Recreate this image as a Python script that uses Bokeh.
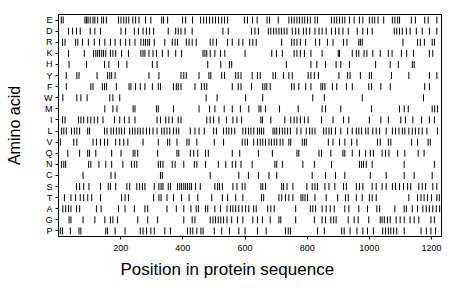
import math
from bokeh.plotting import figure
from bokeh.models import ColumnDataSource, FixedTicker, FactorRange, Range1d, Title
from bokeh.embed import file_html
from bokeh.resources import INLINE

amino_acids = ["E", "D", "R", "K", "H", "Y", "F", "W", "M", "I",
               "L", "V", "Q", "N", "C", "S", "T", "A", "G", "P"]
x_ticks = [200, 400, 600, 800, 1000, 1200]
seq_length = 1232

pos_E = [9, 15, 85, 90, 95, 102, 111, 117, 126, 139, 145, 154, 193, 201, 210, 218, 226, 239, 248, 259,
         280, 297, 332, 338, 351, 399, 409, 431, 457, 467, 476, 486, 496, 505, 515, 525, 534, 544, 598,
         608, 624, 639, 671, 679, 707, 741, 750, 758, 767, 775, 784, 792, 801, 810, 825, 833, 878, 887,
         895, 904, 913, 921, 936, 951, 968, 979, 1000, 1009, 1017, 1028, 1046, 1074, 1082, 1091, 1097,
         1135, 1148, 1178, 1189, 1217]
pos_D = [32, 45, 58, 70, 102, 117, 135, 201, 216, 244, 257, 272, 283, 293, 306, 353, 377, 385, 394, 407,
         430, 529, 546, 621, 632, 643, 675, 683, 692, 700, 709, 717, 726, 735, 752, 763, 773, 788, 797,
         808, 825, 838, 848, 861, 878, 891, 902, 915, 932, 961, 979, 994, 1009, 1080, 1088, 1097, 1106,
         1119, 1131, 1151, 1170, 1193, 1217]
pos_R = [13, 21, 55, 62, 77, 96, 115, 132, 149, 167, 182, 199, 216, 229, 246, 265, 274, 280, 287, 293,
         308, 342, 366, 375, 383, 411, 420, 430, 443, 488, 497, 508, 544, 559, 580, 593, 615, 625, 636,
         718, 750, 758, 767, 778, 795, 827, 840, 865, 883, 917, 928, 966, 971, 977, 1108, 1155, 1164,
         1177, 1202, 1209]
pos_K = [32, 83, 113, 120, 126, 132, 139, 145, 152, 167, 175, 184, 203, 225, 265, 272, 278, 291, 304,
         315, 334, 353, 377, 396, 465, 471, 477, 488, 503, 521, 535, 600, 686, 701, 720, 758, 767, 778,
         791, 812, 848, 900, 904, 945, 958, 966, 983, 992, 1011, 1035, 1061, 1073, 1103, 1120, 1142,
         1193, 1204]
pos_H = [34, 90, 148, 162, 193, 220, 302, 317, 480, 522, 550, 557, 733, 812, 831, 859, 893, 908, 936,
         1020, 1067, 1093, 1138, 1144]
pos_Y = [25, 59, 66, 124, 158, 165, 171, 182, 291, 323, 394, 403, 411, 452, 484, 490, 525, 534, 570, 578,
         587, 623, 640, 649, 690, 698, 724, 741, 752, 803, 812, 823, 836, 902, 930, 938, 971, 1000, 1007,
         1071, 1127, 1193, 1217]
pos_F = [25, 104, 111, 141, 148, 154, 186, 227, 233, 248, 263, 278, 302, 321, 328, 370, 379, 385, 394,
         439, 460, 469, 477, 559, 578, 587, 621, 657, 664, 670, 681, 750, 758, 773, 795, 812, 844, 850,
         857, 881, 895, 926, 945, 998, 1007, 1037, 1067, 1178, 1193]
pos_W = [14, 59, 72, 92, 165, 175, 197, 475, 510, 602, 657, 818, 855, 977, 1174]
pos_M = [149, 175, 188, 240, 246, 315, 321, 370, 452, 486, 503, 533, 559, 585, 612, 645, 651, 666, 711,
         771, 848, 859, 908, 1007, 1097, 1112, 1125, 1202, 1210, 1219]
pos_I = [13, 21, 64, 72, 81, 94, 104, 115, 126, 143, 180, 197, 212, 227, 246, 317, 328, 345, 355, 366,
         385, 394, 477, 488, 499, 516, 540, 561, 574, 589, 651, 656, 683, 728, 747, 758, 767, 778, 791,
         803, 846, 883, 917, 934, 1000, 1037, 1061, 1101, 1116, 1140, 1168, 1193, 1209]
pos_L = [10, 17, 25, 42, 51, 59, 68, 94, 100, 148, 156, 169, 177, 186, 195, 203, 212, 229, 238, 246, 255,
         263, 272, 283, 293, 304, 317, 332, 340, 349, 358, 370, 379, 387, 424, 439, 452, 469, 499, 508,
         531, 540, 548, 557, 567, 593, 602, 611, 619, 628, 640, 647, 653, 660, 690, 696, 702, 711, 720,
         728, 737, 746, 767, 780, 797, 808, 816, 825, 853, 861, 870, 878, 891, 908, 930, 945, 958, 966,
         975, 988, 996, 1011, 1022, 1033, 1054, 1074, 1084, 1095, 1106, 1114, 1127, 1138, 1148, 1159,
         1170, 1185, 1219]
pos_V = [6, 49, 59, 111, 122, 135, 148, 158, 184, 197, 210, 223, 272, 321, 351, 358, 381, 413, 420, 445,
         501, 531, 591, 600, 608, 628, 640, 649, 657, 666, 677, 685, 694, 702, 713, 722, 741, 747, 784,
         791, 797, 868, 883, 904, 921, 943, 960, 1026, 1035, 1061, 1069, 1136, 1155, 1189, 1196]
pos_Q = [30, 68, 94, 100, 120, 171, 201, 240, 246, 255, 319, 381, 387, 424, 435, 448, 473, 482, 559, 583,
         643, 688, 767, 773, 838, 846, 876, 915, 921, 945, 968, 988, 1003, 1013, 1041, 1052, 1063, 1091,
         1114, 1157, 1176]
pos_N = [10, 17, 23, 97, 104, 130, 152, 171, 207, 235, 244, 252, 321, 328, 336, 366, 375, 403, 437, 445,
         473, 514, 538, 559, 570, 587, 623, 696, 702, 720, 786, 823, 878, 968, 975, 981, 990, 1009, 1112,
         1209]
pos_C = [79, 169, 182, 328, 334, 488, 580, 611, 643, 677, 702, 816, 859, 891, 921, 1003, 1054, 1112,
         1144, 1202]
pos_S = [58, 68, 81, 98, 135, 160, 167, 184, 220, 229, 252, 261, 270, 278, 308, 323, 330, 336, 353, 360,
         383, 390, 396, 403, 409, 415, 422, 428, 441, 456, 503, 512, 518, 527, 561, 574, 591, 600, 651,
         657, 666, 718, 724, 735, 754, 799, 816, 825, 833, 857, 870, 889, 917, 926, 958, 968, 979, 1009,
         1022, 1041, 1054, 1074, 1084, 1097, 1110, 1123, 1133, 1159, 1170, 1181, 1204, 1217]
pos_T = [19, 40, 55, 70, 81, 94, 107, 135, 203, 214, 225, 306, 323, 330, 349, 370, 396, 420, 448, 493,
         527, 544, 570, 593, 653, 660, 709, 718, 730, 741, 754, 780, 786, 793, 801, 825, 861, 898, 923,
         932, 958, 977, 1000, 1009, 1022, 1127, 1155, 1166, 1176, 1187, 1200, 1217, 1225]
pos_A = [14, 23, 32, 40, 58, 68, 122, 137, 193, 214, 244, 278, 287, 349, 379, 403, 426, 443, 450, 473,
         480, 503, 521, 542, 553, 561, 570, 580, 591, 602, 612, 628, 636, 673, 683, 694, 763, 810, 818,
         827, 848, 861, 874, 887, 921, 934, 966, 994, 1024, 1033, 1082, 1112, 1119, 1138, 1155, 1172,
         1183, 1193, 1204, 1215, 1226]
pos_G = [34, 40, 79, 117, 149, 167, 175, 190, 255, 287, 319, 403, 430, 439, 488, 497, 505, 514, 522, 531,
         542, 557, 576, 593, 625, 640, 656, 681, 709, 715, 763, 823, 848, 859, 876, 885, 893, 932, 951,
         964, 998, 1035, 1041, 1048, 1058, 1067, 1086, 1099, 1112, 1131, 1144, 1159, 1198, 1209]
pos_P = [6, 13, 38, 66, 72, 152, 158, 182, 214, 263, 272, 283, 297, 308, 342, 360, 415, 424, 432, 445,
         458, 465, 501, 525, 550, 580, 600, 640, 668, 730, 739, 746, 833, 855, 911, 919, 938, 960, 979,
         994, 1013, 1043, 1052, 1061, 1069, 1078, 1088, 1112, 1166, 1183, 1198, 1213]

series = {"E": pos_E, "D": pos_D, "R": pos_R, "K": pos_K, "H": pos_H, "Y": pos_Y, "F": pos_F,
          "W": pos_W, "M": pos_M, "I": pos_I, "L": pos_L, "V": pos_V, "Q": pos_Q, "N": pos_N,
          "C": pos_C, "S": pos_S, "T": pos_T, "A": pos_A, "G": pos_G, "P": pos_P}

xs, ys = [], []
for aa in amino_acids:
    for v in series[aa]:
        xs.append(v)
        ys.append(aa)
src = ColumnDataSource(data=dict(pos=xs, aa=ys))

FONT = "Liberation Sans"

p = figure(width=460, height=299,
           x_range=Range1d(0, seq_length),
           y_range=FactorRange(factors=list(reversed(amino_acids))),
           output_backend="svg", toolbar_location=None,
           min_border_left=58, min_border_right=19, min_border_top=14, min_border_bottom=63)

p.scatter(x="pos", y="aa", source=src, marker="dash", angle=math.pi / 2, size=7,
          line_color="black", line_width=1)

p.xgrid.visible = False
p.ygrid.visible = False
p.outline_line_color = "black"
p.outline_line_alpha = 1
p.outline_line_width = 1
p.background_fill_color = "white"
p.border_fill_color = "white"

p.xaxis.ticker = FixedTicker(ticks=x_ticks)
p.xaxis.minor_tick_line_color = None
p.yaxis.axis_label = "Amino acid"

for ax in (p.xaxis, p.yaxis):
    ax.axis_line_color = "black"
    ax.major_tick_line_color = "black"
    ax.major_tick_in = 0
    ax.major_tick_out = 3
    ax.major_label_text_font = FONT
    ax.major_label_text_font_size = "9px"
    ax.major_label_text_color = "black"
    ax.axis_label_text_font = FONT
    ax.axis_label_text_font_size = "16px"
    ax.axis_label_text_font_style = "normal"
    ax.axis_label_text_color = "black"

p.xaxis.major_label_standoff = 5
p.yaxis.major_label_standoff = 3
p.yaxis.axis_label_standoff = 18

xtitle = Title(text="Position in protein sequence", align="left", offset=62, standoff=9,
               text_font=FONT, text_font_size="17px", text_font_style="normal", text_color="black")
p.add_layout(xtitle, "below")

open("out.html", "w").write(file_html(p, INLINE))
